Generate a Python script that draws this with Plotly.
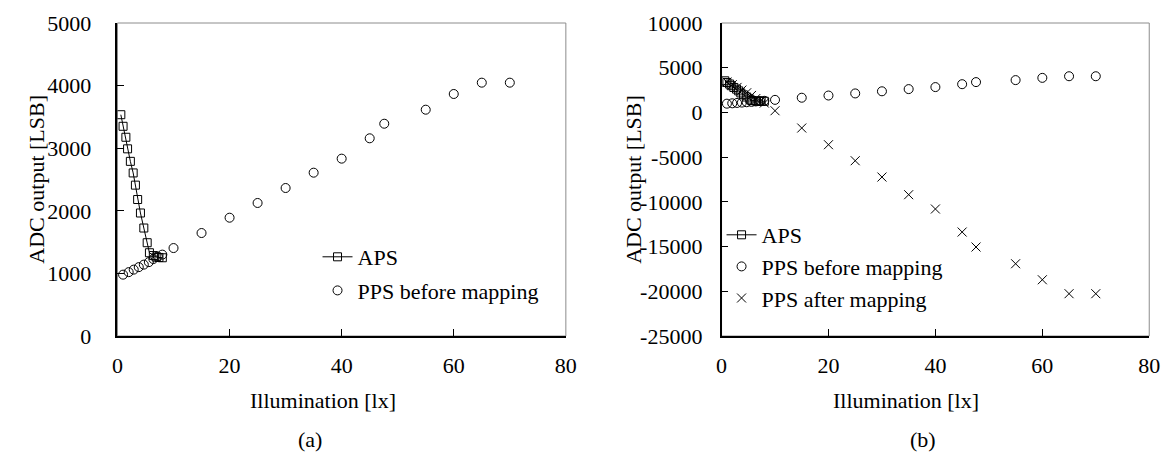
import plotly.graph_objects as go

# ---------------- data ----------------
aps_x = [0.6, 1.0, 1.5, 1.8, 2.3, 2.8, 3.2, 3.6, 4.1, 4.7, 5.3, 5.7, 6.4, 6.9, 7.4, 8.0]
aps_y = [3535, 3350, 3175, 2990, 2790, 2605, 2410, 2180, 1965, 1725, 1490, 1330, 1285, 1262, 1255, 1250]

pps_x = [1.0, 2.0, 2.9, 3.8, 4.7, 5.6, 6.4, 7.2, 8.0, 10, 15, 20, 25, 30, 35, 40, 45, 47.6, 55, 60, 65, 70]
pps_before_y = [980, 1020, 1060, 1100, 1140, 1180, 1230, 1270, 1300, 1405, 1645, 1890, 2125, 2364,
                2609, 2833, 3158, 3391, 3615, 3866, 4047, 4047]
pps_after_y = [3400, 3100, 2800, 2500, 2200, 1900, 1550, 1250, 1050, 190, -1745, -3610, -5400, -7225,
               -9200, -10800, -13375, -15050, -16920, -18710, -20270, -20270]

x_ticks = [0, 20, 40, 60, 80]
x_ticktext = ["0", "20", "40", "60", "80"]
ya_ticks = [0, 1000, 2000, 3000, 4000, 5000]
ya_ticktext = ["0", "1000", "2000", "3000", "4000", "5000"]
yb_ticks = [-25000, -20000, -15000, -10000, -5000, 0, 5000, 10000]
yb_ticktext = ["-25000", "-20000", "-15000", "-10000", "-5000", "0", "5000", "10000"]

# ---------------- layout helpers ----------------
W, H = 1169, 452
L_A, R_A = 105, 560
L_B, R_B = 718, 1152
TOP, BOT = 15, 328
FONT = "Liberation Serif, Times New Roman, serif"
FS = 22


def px(x):
    return x / W


def py(y):
    return (BOT - y) / (BOT - TOP)


fig = go.Figure()

# panel (a)
fig.add_trace(go.Scatter(x=aps_x, y=aps_y, mode="lines+markers", name="APS",
                         line=dict(color="black", width=1),
                         marker=dict(symbol="square-open", size=8, color="black", line=dict(width=1)),
                         xaxis="x", yaxis="y", legend="legend", legendgroup="a1"))
fig.add_trace(go.Scatter(x=pps_x, y=pps_before_y, mode="markers", name="PPS before mapping",
                         marker=dict(symbol="circle-open", size=9, color="black", line=dict(width=1)),
                         xaxis="x", yaxis="y", legend="legend", legendgroup="a2"))

# panel (b)
fig.add_trace(go.Scatter(x=aps_x, y=aps_y, mode="lines+markers", name="APS",
                         line=dict(color="black", width=1),
                         marker=dict(symbol="square-open", size=8, color="black", line=dict(width=1)),
                         xaxis="x2", yaxis="y2", legend="legend2"))
fig.add_trace(go.Scatter(x=pps_x, y=pps_before_y, mode="markers", name="PPS before mapping",
                         marker=dict(symbol="circle-open", size=9, color="black", line=dict(width=1)),
                         xaxis="x2", yaxis="y2", legend="legend2"))
fig.add_trace(go.Scatter(x=pps_x, y=pps_after_y, mode="markers", name="PPS after mapping",
                         marker=dict(symbol="x-thin-open", size=9, color="black", line=dict(width=1, color="black")),
                         xaxis="x2", yaxis="y2", legend="legend2"))

axis_common = dict(showgrid=False, zeroline=False, showline=True, linecolor="black", linewidth=1.5,
                   ticks="inside", ticklen=7, tickwidth=1, tickcolor="black",
                   tickfont=dict(family=FONT, size=FS, color="black"), tickmode="array")

fig.update_layout(
    width=W, height=H,
    margin=dict(l=0, r=0, t=TOP, b=H - BOT, pad=0),
    paper_bgcolor="white", plot_bgcolor="white",
    font=dict(family=FONT, size=FS, color="black"),
    xaxis=dict(domain=[px(L_A), px(R_A)], range=[0, 80], anchor="y",
               tickvals=x_ticks, ticktext=x_ticktext, ticklabelstandoff=9, **axis_common),
    yaxis=dict(domain=[0, 1], range=[0, 5000], anchor="x",
               tickvals=ya_ticks, ticktext=ya_ticktext, ticklabelstandoff=20, **axis_common),
    xaxis2=dict(domain=[px(L_B), px(R_B)], range=[0, 80], anchor="y2",
                tickvals=x_ticks, ticktext=x_ticktext, ticklabelstandoff=9, **axis_common),
    yaxis2=dict(domain=[0, 1], range=[-25000, 10000], anchor="x2",
                tickvals=yb_ticks, ticktext=yb_ticktext, ticklabelstandoff=13, **axis_common),
    legend=dict(x=px(308), xanchor="left", y=py(228), yanchor="top",
                bgcolor="rgba(0,0,0,0)", font=dict(family=FONT, size=FS, color="black"),
                traceorder="grouped", tracegroupgap=2, itemclick=False),
    legend2=dict(x=px(718), xanchor="left", y=py(206), yanchor="top",
                 bgcolor="rgba(0,0,0,0)", font=dict(family=FONT, size=FS, color="black"),
                 itemclick=False),
    showlegend=True,
)

# gray frame for top/right borders
for xr, yr in (("x domain", "y domain"), ("x2 domain", "y2 domain")):
    fig.add_shape(type="rect", xref=xr, yref=yr, x0=0, x1=1, y0=0, y1=1,
                  line=dict(color="#8c8c8c", width=1), layer="below")

ann = dict(showarrow=False, xref="paper", yref="paper", font=dict(family=FONT, size=FS, color="black"),
           xanchor="center", yanchor="middle")
fig.add_annotation(text="ADC output [LSB]", x=px(22), y=py(171), textangle=-90, **ann)
fig.add_annotation(text="ADC output [LSB]", x=px(628), y=py(171), textangle=-90, **ann)
fig.add_annotation(text="Illumination [lx]", x=px(314), y=py(392), **ann)
fig.add_annotation(text="Illumination [lx]", x=px(905), y=py(392), **ann)
fig.add_annotation(text="(a)", x=px(300), y=py(431), **ann)
fig.add_annotation(text="(b)", x=px(922), y=py(431), **ann)

fig.write_html("out.html")
